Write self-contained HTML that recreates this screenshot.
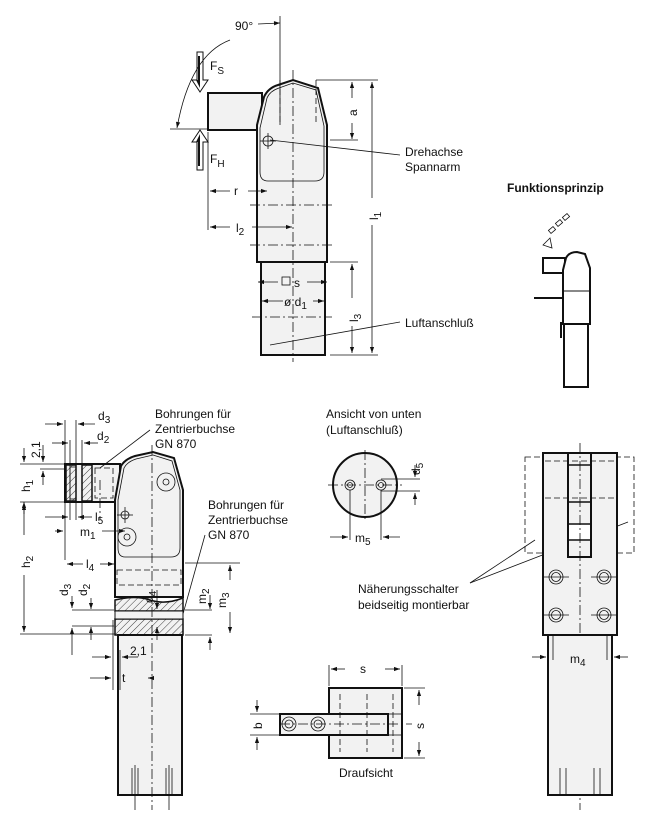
<!DOCTYPE html>
<html><head><meta charset="utf-8"><style>
html,body{margin:0;padding:0;background:#fff}
svg{display:block}
text{font-family:"Liberation Sans",sans-serif;font-size:12px;fill:#111}
.o{fill:#f2f2f2;stroke:#111;stroke-width:2}
.t{fill:none;stroke:#111;stroke-width:0.8}
.c{fill:none;stroke:#111;stroke-width:0.8;stroke-dasharray:10,3,2,3}
.d{fill:none;stroke:#111;stroke-width:0.8;stroke-dasharray:6,3}
.h{fill:url(#hatch);stroke:#111;stroke-width:1.5}
</style></head><body>
<svg width="645" height="822" viewBox="0 0 645 822" xmlns="http://www.w3.org/2000/svg">
<defs>
<marker id="a" viewBox="0 0 10 10" refX="10" refY="5" markerWidth="9" markerHeight="6" markerUnits="userSpaceOnUse" orient="auto-start-reverse"><path d="M0,1.5L10,5L0,8.5z" fill="#111"/></marker>
<pattern id="hatch" width="5" height="5" patternUnits="userSpaceOnUse" patternTransform="rotate(45)"><rect width="5" height="5" fill="#f2f2f2"/><line x1="0" y1="0" x2="0" y2="5" stroke="#111" stroke-width="0.8"/></pattern>
</defs>

<!-- ============ TOP VIEW ============ -->
<rect class="o" x="208" y="93" width="54" height="37"/>
<path class="o" d="M257,262 L257,125 L264,97 Q268,88 278,85 L293,80 L318,88 L327,125 L327,262 Z"/>
<path class="t" d="M260,128 L267,98 Q270,91 279,88 L293,83 L316,90 L324,126 L324,172 Q324,181 315,181 L268,181 Q260,181 260,172 Z"/>
<rect class="o" x="261" y="262" width="64" height="93"/>
<line class="c" x1="293" y1="70" x2="293" y2="362"/>
<line class="d" x1="280" y1="80" x2="280" y2="125"/><line class="d" x1="316" y1="80" x2="316" y2="125"/>
<line class="c" x1="250" y1="205" x2="335" y2="205"/><line class="c" x1="250" y1="245" x2="335" y2="245"/>
<line class="c" x1="252" y1="317" x2="332" y2="317"/>
<circle class="t" cx="268" cy="141" r="5"/><line class="t" x1="260" y1="141" x2="276" y2="141"/><line class="t" x1="268" y1="133" x2="268" y2="149"/>
<!-- forces -->
<path d="M197,52 L203,52 L203,80 L208,80 L200,92 L192,80 L197,80 Z" fill="#fff" stroke="#111" stroke-width="1"/>
<path d="M198,56 L200,56 L200,88 L196,80 L198,80Z" fill="#111"/>
<path d="M197,170 L203,170 L203,142 L208,142 L200,130 L192,142 L197,142 Z" fill="#fff" stroke="#111" stroke-width="1"/>
<path d="M198,166 L200,166 L200,134 L196,142 L198,142Z" fill="#111"/>
<text x="210" y="70" font-size="15">F<tspan font-size="10" dy="4">S</tspan></text>
<text x="210" y="163" font-size="15">F<tspan font-size="10" dy="4">H</tspan></text>
<line class="t" x1="170" y1="129" x2="208" y2="129"/>
<path class="t" d="M230,40 Q190,55 177,128" marker-end="url(#a)"/>
<line class="t" x1="258" y1="24" x2="280" y2="23" marker-end="url(#a)"/>
<line class="t" x1="280" y1="16" x2="280" y2="125"/>
<text x="235" y="30" font-size="11">90°</text>
<!-- dims -->
<line class="t" x1="208" y1="132" x2="208" y2="230"/>
<line class="t" x1="210" y1="191" x2="230" y2="191" marker-start="url(#a)"/><line class="t" x1="248" y1="191" x2="267" y2="191" marker-end="url(#a)"/><text x="234" y="195" font-size="14">r</text>
<line class="t" x1="210" y1="227" x2="230" y2="227" marker-start="url(#a)"/><line class="t" x1="252" y1="227" x2="292" y2="227" marker-end="url(#a)"/><text x="236" y="232" font-size="14">l<tspan font-size="10" dy="3">2</tspan></text>
<line class="t" x1="316" y1="80" x2="378" y2="80"/><line class="t" x1="330" y1="140" x2="358" y2="140"/><line class="t" x1="330" y1="355" x2="378" y2="355"/><line class="t" x1="330" y1="262" x2="358" y2="262"/>
<line class="t" x1="352" y1="82" x2="352" y2="98" marker-start="url(#a)"/><line class="t" x1="352" y1="123" x2="352" y2="139" marker-end="url(#a)"/>
<text transform="translate(357,116) rotate(-90)" font-size="14">a</text>
<line class="t" x1="372" y1="82" x2="372" y2="198" marker-start="url(#a)"/><line class="t" x1="372" y1="225" x2="372" y2="353" marker-end="url(#a)"/>
<text transform="translate(378,220) rotate(-90)" font-size="14">l<tspan font-size="10" dy="3">1</tspan></text>
<line class="t" x1="352" y1="264" x2="352" y2="298" marker-start="url(#a)"/><line class="t" x1="352" y1="326" x2="352" y2="353" marker-end="url(#a)"/>
<text transform="translate(358,322) rotate(-90)" font-size="14">l<tspan font-size="10" dy="3">3</tspan></text>
<line class="t" x1="258" y1="282" x2="278" y2="282" marker-start="url(#a)"/><line class="t" x1="307" y1="282" x2="327" y2="282" marker-end="url(#a)"/><rect x="282" y="277" width="8" height="8" fill="none" stroke="#111" stroke-width="0.8"/><text x="294" y="287" font-size="14">s</text>
<line class="t" x1="262" y1="301" x2="283" y2="301" marker-start="url(#a)"/><line class="t" x1="313" y1="301" x2="324" y2="301" marker-end="url(#a)"/><text x="284" y="306" font-size="14">ø d<tspan font-size="10" dy="3">1</tspan></text>
<line class="t" x1="270" y1="140" x2="400" y2="155"/><text x="405" y="156">Drehachse</text><text x="405" y="171">Spannarm</text>
<line class="t" x1="270" y1="345" x2="400" y2="322"/><text x="405" y="327">Luftanschluß</text>

<!-- Funktionsprinzip -->
<text x="507" y="192" font-weight="bold" font-size="12">Funktionsprinzip</text>
<g class="t"><polygon points="543,245 550,238 552,248" /><rect x="549" y="228" width="6" height="4" transform="rotate(-40 552 230)"/><rect x="556" y="221" width="6" height="4" transform="rotate(-40 559 223)"/><rect x="563" y="215" width="6" height="4" transform="rotate(-40 566 217)"/></g>
<rect x="543" y="258" width="22" height="15" fill="#fff" stroke="#111" stroke-width="2"/>
<path d="M563,324 L563,270 L566,258 Q569,252 577,252 L585,254 L590,268 L590,324 Z" fill="#fff" stroke="#111" stroke-width="2"/>
<line x1="563" y1="291" x2="590" y2="291" stroke="#111" stroke-width="1"/>
<rect x="564" y="324" width="24" height="63" fill="#fff" stroke="#111" stroke-width="2"/>
<line x1="534" y1="298" x2="563" y2="298" stroke="#111" stroke-width="2"/>
<line x1="561" y1="322" x2="561" y2="338" stroke="#111" stroke-width="2"/>

<!-- ============ SIDE VIEW (bottom left) ============ -->
<rect class="o" x="65" y="464" width="55" height="38"/>
<rect class="h" x="66" y="465" width="10" height="36"/><rect class="h" x="82" y="465" width="10" height="36"/>
<rect class="t" x="70" y="467" width="6" height="32"/>
<rect class="d" x="95" y="468" width="18" height="30"/>
<path class="o" d="M115,597 L115,500 L121,466 Q125,459 135,456 L153,452 L174,458 L183,490 L183,597 Z"/>
<path class="t" d="M118,500 L124,468 Q127,462 136,459 L153,455 L172,461 L180,490 L180,548 Q180,557 171,557 L125,557 Q118,557 118,548 Z"/>
<circle class="t" cx="166" cy="482" r="9"/><circle class="t" cx="166" cy="482" r="3"/>
<circle class="t" cx="127" cy="537" r="9"/><circle class="t" cx="127" cy="537" r="3"/>
<circle class="t" cx="125" cy="515" r="4"/><line class="t" x1="117" y1="515" x2="133" y2="515"/><line class="t" x1="125" y1="507" x2="125" y2="523"/>
<rect class="d" x="117" y="570" width="64" height="15"/>
<path class="h" d="M115,600 Q135,595 150,600 Q165,605 183,598 L183,611 L115,611 Z"/>
<rect class="h" x="115" y="619" width="68" height="16"/>
<rect class="o" x="115" y="611" width="68" height="8" style="stroke-width:1"/>
<rect class="o" x="118" y="635" width="64" height="160"/>
<line class="c" x1="152" y1="445" x2="152" y2="810"/>
<line class="c" x1="100" y1="480" x2="100" y2="520"/>
<g class="t"><line x1="132" y1="768" x2="132" y2="795"/><line x1="138" y1="768" x2="138" y2="795"/><line x1="166" y1="768" x2="166" y2="795"/><line x1="172" y1="768" x2="172" y2="795"/><line x1="135" y1="765" x2="135" y2="810"/><line x1="169" y1="765" x2="169" y2="810"/></g>
<!-- side view dims -->
<g class="t">
<line x1="20" y1="464" x2="65" y2="464"/><line x1="20" y1="502" x2="65" y2="502"/><line x1="20" y1="634" x2="115" y2="634"/>
<line x1="40" y1="469" x2="65" y2="469"/>
<line x1="24" y1="448" x2="24" y2="462" marker-end="url(#a)"/><line x1="24" y1="502" x2="24" y2="514" marker-start="url(#a)"/>
<line x1="43" y1="445" x2="43" y2="462" marker-end="url(#a)"/><line x1="43" y1="471" x2="43" y2="485" marker-start="url(#a)"/>
<line x1="24" y1="504" x2="24" y2="535" marker-start="url(#a)"/><line x1="24" y1="575" x2="24" y2="632" marker-end="url(#a)"/>
<line x1="65" y1="420" x2="65" y2="560"/><line x1="70" y1="440" x2="70" y2="520"/><line x1="76" y1="420" x2="76" y2="520"/><line x1="82" y1="440" x2="82" y2="520"/>
<line x1="45" y1="424" x2="63" y2="424" marker-end="url(#a)"/><line x1="95" y1="424" x2="78" y2="424" marker-end="url(#a)"/>
<line x1="52" y1="443" x2="68" y2="443" marker-end="url(#a)"/><line x1="98" y1="443" x2="84" y2="443" marker-end="url(#a)"/>
<line x1="45" y1="517" x2="68" y2="517" marker-end="url(#a)"/><line x1="92" y1="517" x2="78" y2="517" marker-end="url(#a)"/>
<line x1="55" y1="531" x2="63" y2="531" marker-end="url(#a)"/><line x1="102" y1="531" x2="125" y2="531" marker-end="url(#a)"/>
<line x1="67" y1="564" x2="83" y2="564" marker-start="url(#a)"/><line x1="100" y1="564" x2="114" y2="564" marker-end="url(#a)"/>
<line x1="72" y1="610" x2="114" y2="610"/><line x1="72" y1="626" x2="114" y2="626"/>
<line x1="72" y1="596" x2="72" y2="608" marker-end="url(#a)"/><line x1="72" y1="655" x2="72" y2="628" marker-end="url(#a)"/>
<line x1="91" y1="598" x2="91" y2="609" marker-end="url(#a)"/><line x1="91" y1="640" x2="91" y2="627" marker-end="url(#a)"/>
<line x1="157" y1="590" x2="157" y2="609" marker-end="url(#a)"/><line x1="157" y1="640" x2="157" y2="627" marker-end="url(#a)"/>
<line x1="185" y1="563" x2="240" y2="563"/><line x1="185" y1="610" x2="212" y2="610"/><line x1="185" y1="635" x2="212" y2="635"/>
<line x1="210" y1="595" x2="210" y2="609" marker-end="url(#a)"/><line x1="210" y1="650" x2="210" y2="637" marker-end="url(#a)"/>
<line x1="230" y1="565" x2="230" y2="580" marker-start="url(#a)"/><line x1="230" y1="612" x2="230" y2="633" marker-end="url(#a)"/>
<line x1="113" y1="620" x2="113" y2="690"/><line x1="120" y1="650" x2="120" y2="690"/>
<line x1="92" y1="657" x2="111" y2="657" marker-end="url(#a)"/><line x1="138" y1="657" x2="122" y2="657" marker-end="url(#a)"/>
<line x1="90" y1="678" x2="111" y2="678" marker-end="url(#a)"/><line x1="148" y1="678" x2="154" y2="678" marker-start="url(#a)"/>
<line x1="100" y1="468" x2="150" y2="430"/><line x1="183" y1="614" x2="205" y2="535"/>
</g>
<text transform="translate(30,492) rotate(-90)" font-size="14">h<tspan font-size="10" dy="3">1</tspan></text>
<text transform="translate(30,568) rotate(-90)" font-size="14">h<tspan font-size="10" dy="3">2</tspan></text>
<text transform="translate(40,458) rotate(-90)" font-size="11">2,1</text>
<text x="98" y="420" font-size="14">d<tspan font-size="10" dy="3">3</tspan></text>
<text x="97" y="440" font-size="14">d<tspan font-size="10" dy="3">2</tspan></text>
<text x="95" y="521" font-size="14">l<tspan font-size="10" dy="3">5</tspan></text>
<text x="80" y="536" font-size="14">m<tspan font-size="10" dy="3">1</tspan></text>
<text x="86" y="568" font-size="14">l<tspan font-size="10" dy="3">4</tspan></text>
<text transform="translate(68,596) rotate(-90)" font-size="14">d<tspan font-size="10" dy="3">3</tspan></text>
<text transform="translate(87,596) rotate(-90)" font-size="14">d<tspan font-size="10" dy="3">2</tspan></text>
<text transform="translate(153,603) rotate(-90)" font-size="14">d<tspan font-size="10" dy="3">4</tspan></text>
<text transform="translate(206,604) rotate(-90)" font-size="14">m<tspan font-size="10" dy="3">2</tspan></text>
<text transform="translate(226,608) rotate(-90)" font-size="14">m<tspan font-size="10" dy="3">3</tspan></text>
<text x="130" y="655" font-size="11">2,1</text>
<text x="122" y="682" font-size="14">t</text>
<text x="155" y="418">Bohrungen für</text><text x="155" y="433">Zentrierbuchse</text><text x="155" y="448">GN 870</text>
<text x="208" y="509">Bohrungen für</text><text x="208" y="524">Zentrierbuchse</text><text x="208" y="539">GN 870</text>

<!-- Ansicht von unten -->
<text x="326" y="418">Ansicht von unten</text><text x="326" y="434">(Luftanschluß)</text>
<circle cx="365" cy="485" r="32" fill="#f2f2f2" stroke="#111" stroke-width="2"/>
<line class="c" x1="328" y1="485" x2="402" y2="485"/><line class="c" x1="365" y1="450" x2="365" y2="520"/>
<circle class="t" cx="350" cy="485" r="5"/><circle class="t" cx="350" cy="485" r="2.5"/>
<circle class="t" cx="381" cy="485" r="5"/><circle class="t" cx="381" cy="485" r="2.5"/>
<g class="t"><line x1="381" y1="479" x2="420" y2="479"/><line x1="381" y1="491" x2="420" y2="491"/>
<line x1="415" y1="465" x2="415" y2="477" marker-end="url(#a)"/><line x1="415" y1="505" x2="415" y2="493" marker-end="url(#a)"/>
<line x1="350" y1="490" x2="350" y2="540"/><line x1="381" y1="490" x2="381" y2="540"/>
<line x1="330" y1="537" x2="348" y2="537" marker-end="url(#a)"/><line x1="400" y1="537" x2="383" y2="537" marker-end="url(#a)"/></g>
<text transform="translate(420,475) rotate(-90)" font-size="14">d<tspan font-size="10" dy="3">5</tspan></text>
<text x="355" y="542" font-size="14">m<tspan font-size="10" dy="3">5</tspan></text>

<text x="358" y="593">Näherungsschalter</text><text x="358" y="609">beidseitig montierbar</text>
<line class="t" x1="470" y1="583" x2="535" y2="540"/><line class="t" x1="470" y1="583" x2="628" y2="522"/>

<!-- Draufsicht -->
<rect class="o" x="329" y="688" width="73" height="70"/>
<rect class="o" x="280" y="714" width="108" height="21"/>
<rect class="t" x="388" y="714" width="14" height="21"/>
<g class="d"><line x1="340" y1="694" x2="340" y2="752"/><line x1="367" y1="694" x2="367" y2="752"/><line x1="393" y1="694" x2="393" y2="752"/></g>
<line class="c" x1="280" y1="724" x2="412" y2="724"/>
<circle class="t" cx="289" cy="724" r="7"/><circle class="t" cx="289" cy="724" r="4"/>
<circle class="t" cx="318" cy="724" r="7"/><circle class="t" cx="318" cy="724" r="4"/>
<g class="t"><line x1="329" y1="665" x2="329" y2="686"/><line x1="402" y1="665" x2="402" y2="686"/>
<line x1="345" y1="669" x2="331" y2="669" marker-end="url(#a)"/><line x1="385" y1="669" x2="400" y2="669" marker-end="url(#a)"/>
<line x1="404" y1="688" x2="425" y2="688"/><line x1="404" y1="758" x2="425" y2="758"/>
<line x1="419" y1="705" x2="419" y2="690" marker-end="url(#a)"/><line x1="419" y1="742" x2="419" y2="756" marker-end="url(#a)"/>
<line x1="250" y1="714" x2="280" y2="714"/><line x1="250" y1="735" x2="280" y2="735"/>
<line x1="257" y1="700" x2="257" y2="712" marker-end="url(#a)"/><line x1="257" y1="750" x2="257" y2="737" marker-end="url(#a)"/></g>
<text x="360" y="673" font-size="14">s</text>
<text transform="translate(424,729) rotate(-90)" font-size="14">s</text>
<text transform="translate(262,729) rotate(-90)" font-size="14">b</text>
<text x="339" y="777">Draufsicht</text>

<!-- Right view -->
<rect class="d" x="525" y="457" width="109" height="96"/>
<rect class="o" x="543" y="453" width="74" height="182"/>
<rect class="o" x="568" y="453" width="23" height="104"/>
<g stroke="#111" stroke-width="1.5"><line x1="568" y1="465" x2="591" y2="465"/><line x1="568" y1="502" x2="591" y2="502"/><line x1="568" y1="524" x2="591" y2="524"/><line x1="568" y1="540" x2="591" y2="540"/></g>
<rect x="569" y="525" width="21" height="14" fill="#fff"/>
<line class="d" x1="545" y1="461" x2="615" y2="461"/><line class="d" x1="545" y1="498" x2="615" y2="498"/>
<line class="c" x1="580" y1="443" x2="580" y2="810"/>
<g class="t"><circle cx="556" cy="577" r="7"/><circle cx="556" cy="577" r="4.5"/><circle cx="604" cy="577" r="7"/><circle cx="604" cy="577" r="4.5"/><circle cx="556" cy="615" r="7"/><circle cx="556" cy="615" r="4.5"/><circle cx="604" cy="615" r="7"/><circle cx="604" cy="615" r="4.5"/>
<line x1="543" y1="577" x2="569" y2="577"/><line x1="591" y1="577" x2="617" y2="577"/><line x1="543" y1="615" x2="569" y2="615"/><line x1="591" y1="615" x2="617" y2="615"/></g>
<rect class="o" x="548" y="635" width="64" height="160"/>
<line class="t" x1="553" y1="635" x2="553" y2="660"/><line class="t" x1="607" y1="635" x2="607" y2="660"/>
<line class="t" x1="532" y1="657" x2="546" y2="657" marker-end="url(#a)"/><line class="t" x1="628" y1="657" x2="614" y2="657" marker-end="url(#a)"/>
<text x="570" y="663" font-size="14">m<tspan font-size="10" dy="3">4</tspan></text>
<g class="t"><line x1="560" y1="768" x2="560" y2="795"/><line x1="566" y1="768" x2="566" y2="795"/><line x1="594" y1="768" x2="594" y2="795"/><line x1="600" y1="768" x2="600" y2="795"/></g>
</svg>
</body></html>
